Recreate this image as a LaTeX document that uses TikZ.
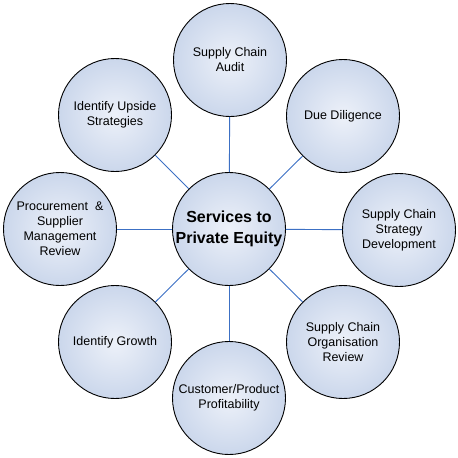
\documentclass[tikz,border=0pt]{standalone}
\usepackage{fontspec}
\setmainfont{Liberation Sans}
\usetikzlibrary{positioning}
\definecolor{ballin}{HTML}{EDF1F9}
\definecolor{ballout}{HTML}{A9BDDE}
\definecolor{spoke}{HTML}{3C70C4}
\pgfdeclareradialshading{ballshade}{\pgfpoint{0bp}{0bp}}{color(0bp)=(ballin); color(50bp)=(ballout); color(100bp)=(ballout)}

\begin{document}
\begin{tikzpicture}[x=1pt, y=-1pt,
  ball/.style={circle, draw=black, line width=0.9pt, minimum size=113pt, inner sep=0pt, align=center, shading=ballshade, font=\fontsize{12.5}{15}\selectfont},
  hub/.style={ball, font=\fontsize{16}{21}\selectfont\bfseries},
  link/.style={draw=spoke, line width=0.9pt}
]
\useasboundingbox (0,0) rectangle (458,458);
\node[hub] (hub) at (229,229) {Services to\\Private Equity};
\node[ball] (audit) at (230,60) {Supply Chain\\Audit};
\node[ball] (diligence) at (343,116) {Due Diligence};
\node[ball] (strategy) at (399,230) {Supply Chain\\Strategy\\Development};
\node[ball] (organisation) at (343,342) {Supply Chain\\Organisation\\Review};
\node[ball] (profit) at (229,398) {Customer/Product\\Profitability};
\node[ball] (growth) at (115,342) {Identify Growth};
\node[ball] (procure) at (60,229) {Procurement~~\&\\Supplier\\Management\\Review};
\node[ball] (upside) at (115,115) {Identify Upside\\Strategies};
\draw[link] (hub) -- (audit);
\draw[link] (hub) -- (diligence);
\draw[link] (hub) -- (strategy);
\draw[link] (hub) -- (organisation);
\draw[link] (hub) -- (profit);
\draw[link] (hub) -- (growth);
\draw[link] (hub) -- (procure);
\draw[link] (hub) -- (upside);
\end{tikzpicture}
\end{document}
